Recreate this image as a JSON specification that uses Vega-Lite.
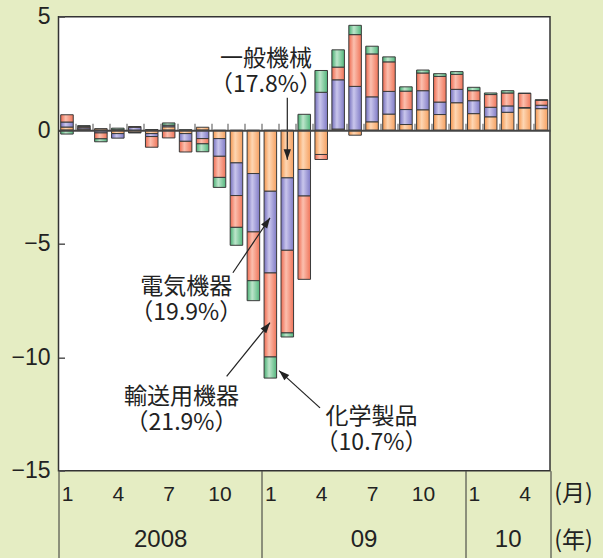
{
  "$schema": "https://vega.github.io/schema/vega-lite/v6.json",
  "width": 491.5,
  "height": 454,
  "autosize": {"type": "none"},
  "padding": {"left": 58.5, "top": 16.7, "right": 53, "bottom": 87.3},
  "background": "#e5edc3",
  "view": {"fill": "#ffffff", "stroke": "#333333", "strokeWidth": 1.5},
  "config": {
    "axis": {"labelFont": "Liberation Sans", "labelColor": "#222222", "grid": false, "domain": false, "titleFontWeight": "normal", "titleColor": "#222222", "labelFlush": false, "labelOverlap": false},
    "axisY": {"tickSize": -6, "tickColor": "#555555", "tickWidth": 1.5, "labelPadding": 14.5, "labelFontSize": 23}
  },
  "datasets": {
    "trade": [
      {"month": "2008-01", "machinery": 0.14, "electrical": 0.22, "transport": 0.32, "chemical": -0.17},
      {"month": "2008-02", "machinery": 0.05, "electrical": 0.06, "transport": 0.06, "chemical": 0.03},
      {"month": "2008-03", "machinery": 0.07, "electrical": -0.12, "transport": -0.26, "chemical": -0.13},
      {"month": "2008-04", "machinery": -0.15, "electrical": -0.2, "transport": 0.02, "chemical": 0.07},
      {"month": "2008-05", "machinery": -0.1, "electrical": 0.13, "transport": 0.03, "chemical": -0.02},
      {"month": "2008-06", "machinery": -0.15, "electrical": -0.13, "transport": -0.47, "chemical": 0.03},
      {"month": "2008-07", "machinery": 0.15, "electrical": 0.07, "transport": -0.34, "chemical": 0.1},
      {"month": "2008-08", "machinery": -0.15, "electrical": -0.34, "transport": -0.47, "chemical": 0.02},
      {"month": "2008-09", "machinery": 0.13, "electrical": -0.37, "transport": -0.23, "chemical": -0.35},
      {"month": "2008-10", "machinery": -0.37, "electrical": -0.78, "transport": -0.93, "chemical": -0.44},
      {"month": "2008-11", "machinery": -1.44, "electrical": -1.44, "transport": -1.4, "chemical": -0.79},
      {"month": "2008-12", "machinery": -1.91, "electrical": -2.57, "transport": -2.15, "chemical": -0.88},
      {"month": "2009-01", "machinery": -2.69, "electrical": -3.6, "transport": -3.7, "chemical": -0.93},
      {"month": "2009-02", "machinery": -2.1, "electrical": -3.19, "transport": -3.64, "chemical": -0.18},
      {"month": "2009-03", "machinery": -1.73, "electrical": -1.17, "transport": -3.67, "chemical": 0.7},
      {"month": "2009-04", "machinery": -1.07, "electrical": 1.67, "transport": -0.22, "chemical": 0.96},
      {"month": "2009-05", "machinery": 0.05, "electrical": 2.17, "transport": 0.56, "chemical": 0.76},
      {"month": "2009-06", "machinery": -0.22, "electrical": 1.93, "transport": 2.28, "chemical": 0.41},
      {"month": "2009-07", "machinery": 0.37, "electrical": 1.1, "transport": 1.89, "chemical": 0.34},
      {"month": "2009-08", "machinery": 0.71, "electrical": 1.0, "transport": 1.3, "chemical": 0.22},
      {"month": "2009-09", "machinery": 0.25, "electrical": 0.66, "transport": 0.81, "chemical": 0.19},
      {"month": "2009-10", "machinery": 0.9, "electrical": 0.84, "transport": 0.78, "chemical": 0.13},
      {"month": "2009-11", "machinery": 0.69, "electrical": 0.55, "transport": 1.13, "chemical": 0.12},
      {"month": "2009-12", "machinery": 1.21, "electrical": 0.59, "transport": 0.66, "chemical": 0.12},
      {"month": "2010-01", "machinery": 0.73, "electrical": 0.57, "transport": 0.44, "chemical": 0.15},
      {"month": "2010-02", "machinery": 0.59, "electrical": 0.42, "transport": 0.56, "chemical": 0.07},
      {"month": "2010-03", "machinery": 0.79, "electrical": 0.28, "transport": 0.57, "chemical": 0.1},
      {"month": "2010-04", "machinery": 0.98, "electrical": 0.02, "transport": 0.62, "chemical": 0.01},
      {"month": "2010-05", "machinery": 0.95, "electrical": 0.15, "transport": 0.22, "chemical": 0.02}
    ],
    "notes": [
      {"x": 12.24, "y": 3.15, "text": "一般機械\n（17.8%）"},
      {"x": 7.54, "y": -6.92, "text": "電気機器\n（19.9%）"},
      {"x": 7.26, "y": -11.74, "text": "輸送用機器\n（21.9%）"},
      {"x": 18.47, "y": -12.63, "text": "化学製品\n（10.7%）"}
    ],
    "arrows": [
      {"id": 1, "x1": 13.5, "y1": 1.43, "x2": 13.5, "y2": -1.3},
      {"id": 2, "x1": 10.29, "y1": -6.28, "x2": 12.48, "y2": -3.86},
      {"id": 3, "x1": 9.92, "y1": -10.85, "x2": 12.48, "y2": -8.48},
      {"id": 4, "x1": 15.43, "y1": -12.23, "x2": 13.01, "y2": -10.59}
    ]
  },
  "resolve": {"scale": {"x": "independent"}, "axis": {"x": "independent"}},
  "layer": [
    {
      "data": {"name": "trade"},
      "transform": [
        {"fold": ["machinery", "electrical", "transport", "chemical"], "as": ["cat", "value"]},
        {"filter": "datum.value != 0"},
        {"stack": "value", "groupby": ["month"], "as": ["v0", "v1"]}
      ],
      "encoding": {
        "x": {"field": "month", "type": "ordinal", "scale": {"paddingInner": 0.26, "paddingOuter": 0.13}, "axis": null},
        "y": {"field": "v0", "type": "quantitative", "scale": {"domain": [-15, 5], "nice": false, "zero": false},
              "axis": {"values": [-15, -10, -5, 0, 5], "title": null}},
        "y2": {"field": "v1"}
      },
      "layer": [
        {"transform": [{"filter": "datum.cat === 'machinery'"}],
         "mark": {"type": "bar", "stroke": "#3a3a3a", "strokeWidth": 1,
                  "fill": {"gradient": "linear", "x1": 0, "y1": 0, "x2": 1, "y2": 0, "stops": [{"offset": 0, "color": "#f4964f"}, {"offset": 0.4, "color": "#fdd6b3"}, {"offset": 1, "color": "#f6a060"}]}}},
        {"transform": [{"filter": "datum.cat === 'electrical'"}],
         "mark": {"type": "bar", "stroke": "#3a3a3a", "strokeWidth": 1,
                  "fill": {"gradient": "linear", "x1": 0, "y1": 0, "x2": 1, "y2": 0, "stops": [{"offset": 0, "color": "#7570bd"}, {"offset": 0.4, "color": "#c9c6ec"}, {"offset": 1, "color": "#7f7ac6"}]}}},
        {"transform": [{"filter": "datum.cat === 'transport'"}],
         "mark": {"type": "bar", "stroke": "#3a3a3a", "strokeWidth": 1,
                  "fill": {"gradient": "linear", "x1": 0, "y1": 0, "x2": 1, "y2": 0, "stops": [{"offset": 0, "color": "#ee6a50"}, {"offset": 0.4, "color": "#fbbfae"}, {"offset": 1, "color": "#f07459"}]}}},
        {"transform": [{"filter": "datum.cat === 'chemical'"}],
         "mark": {"type": "bar", "stroke": "#3a3a3a", "strokeWidth": 1,
                  "fill": {"gradient": "linear", "x1": 0, "y1": 0, "x2": 1, "y2": 0, "stops": [{"offset": 0, "color": "#47ae72"}, {"offset": 0.4, "color": "#bde5cb"}, {"offset": 1, "color": "#52b67c"}]}}}
      ]
    },
    {
      "data": {"name": "notes"},
      "mark": {"type": "text", "font": "Noto Sans CJK JP", "fontSize": 23, "lineHeight": 26, "lineBreak": "\n", "color": "#222222", "align": "center", "baseline": "middle"},
      "encoding": {
        "x": {"field": "x", "type": "quantitative", "scale": {"domain": [0, 29], "nice": false, "zero": false},
              "axis": {"orient": "bottom", "values": [0.5, 3.5, 6.5, 9.5, 12.5, 15.5, 18.5, 21.5, 24.5, 27.5], "labelExpr": "'' + ((datum.value - 0.5) % 12 + 1)", "ticks": false, "domain": false, "labelFontSize": 21, "labelBaseline": "middle", "labelPadding": 24,
                       "title": "(月)", "titleX": 514.5, "titleY": 23, "titleAlign": "center", "titleBaseline": "middle", "titleAngle": 0, "titleFont": "Noto Sans CJK JP", "titleFontSize": 23}},
        "y": {"field": "y", "type": "quantitative", "scale": {"domain": [-15, 5], "nice": false, "zero": false}, "axis": {"values": [-15, -10, -5, 0, 5], "title": null}},
        "text": {"field": "text"}
      }
    },
    {
      "data": {"name": "arrows"},
      "mark": {"type": "rule", "color": "#222222", "strokeWidth": 1.2},
      "encoding": {
        "x": {"field": "x1", "type": "quantitative", "scale": {"domain": [0, 29], "nice": false, "zero": false},
              "axis": {"orient": "bottom", "values": [6, 18, 26.5], "labelExpr": "datum.value == 6 ? '2008' : datum.value == 18 ? '09' : '10'", "ticks": false, "domain": false, "labelFontSize": 24, "labelBaseline": "middle", "labelPadding": 69,
                       "title": "(年)", "titleX": 514.5, "titleY": 70, "titleAlign": "center", "titleBaseline": "middle", "titleAngle": 0, "titleFont": "Noto Sans CJK JP", "titleFontSize": 23}},
        "x2": {"field": "x2"},
        "y": {"field": "y1", "type": "quantitative", "scale": {"domain": [-15, 5], "nice": false, "zero": false}, "axis": {"values": [-15, -10, -5, 0, 5], "title": null}},
        "y2": {"field": "y2"}
      }
    },
    {
      "data": {"name": "arrows"},
      "transform": [{"filter": "datum.id == 1"}],
      "mark": {"type": "point", "shape": "M0,0L0.35,1L-0.35,1Z", "filled": true, "color": "#222222", "opacity": 1, "size": 440, "angle": 180},
      "encoding": {
        "x": {"field": "x2", "type": "quantitative", "scale": {"domain": [0, 29], "nice": false, "zero": false},
              "axis": {"orient": "bottom", "values": [0, 12, 24, 29], "labels": false, "domain": false, "ticks": true, "tickSize": 88, "tickColor": "#333333", "tickWidth": 1, "title": null}},
        "y": {"field": "y2", "type": "quantitative", "scale": {"domain": [-15, 5], "nice": false, "zero": false}, "axis": {"values": [-15, -10, -5, 0, 5], "title": null}}
      }
    },
    {
      "data": {"name": "arrows"},
      "transform": [{"filter": "datum.id == 2"}],
      "mark": {"type": "point", "shape": "M0,0L0.35,1L-0.35,1Z", "filled": true, "color": "#222222", "opacity": 1, "size": 440, "angle": 34},
      "encoding": {
        "x": {"field": "x2", "type": "quantitative", "scale": {"domain": [0, 29], "nice": false, "zero": false},
              "axis": {"orient": "bottom", "offset": {"expr": "scale('y', 0) - height"}, "values": [1, 2, 3, 4, 5, 6, 7, 8, 9, 10, 11, 12, 13, 14, 15, 16, 17, 18, 19, 20, 21, 22, 23, 24, 25, 26, 27, 28], "labels": false, "domain": true, "domainColor": "#444444", "domainWidth": 2, "ticks": true, "tickSize": -7, "tickColor": "#8a8a8a", "tickWidth": 1.5, "title": null, "zindex": 1}},
        "y": {"field": "y2", "type": "quantitative", "scale": {"domain": [-15, 5], "nice": false, "zero": false}, "axis": {"values": [-15, -10, -5, 0, 5], "title": null}}
      }
    },
    {
      "data": {"name": "arrows"},
      "transform": [{"filter": "datum.id == 3"}],
      "mark": {"type": "point", "shape": "M0,0L0.35,1L-0.35,1Z", "filled": true, "color": "#222222", "opacity": 1, "size": 440, "angle": 39},
      "encoding": {
        "x": {"field": "x2", "type": "quantitative", "scale": {"domain": [0, 29], "nice": false, "zero": false}, "axis": null},
        "y": {"field": "y2", "type": "quantitative", "scale": {"domain": [-15, 5], "nice": false, "zero": false}, "axis": {"values": [-15, -10, -5, 0, 5], "title": null}}
      }
    },
    {
      "data": {"name": "arrows"},
      "transform": [{"filter": "datum.id == 4"}],
      "mark": {"type": "point", "shape": "M0,0L0.35,1L-0.35,1Z", "filled": true, "color": "#222222", "opacity": 1, "size": 440, "angle": -48},
      "encoding": {
        "x": {"field": "x2", "type": "quantitative", "scale": {"domain": [0, 29], "nice": false, "zero": false}, "axis": null},
        "y": {"field": "y2", "type": "quantitative", "scale": {"domain": [-15, 5], "nice": false, "zero": false}, "axis": {"values": [-15, -10, -5, 0, 5], "title": null}}
      }
    }
  ]
}
